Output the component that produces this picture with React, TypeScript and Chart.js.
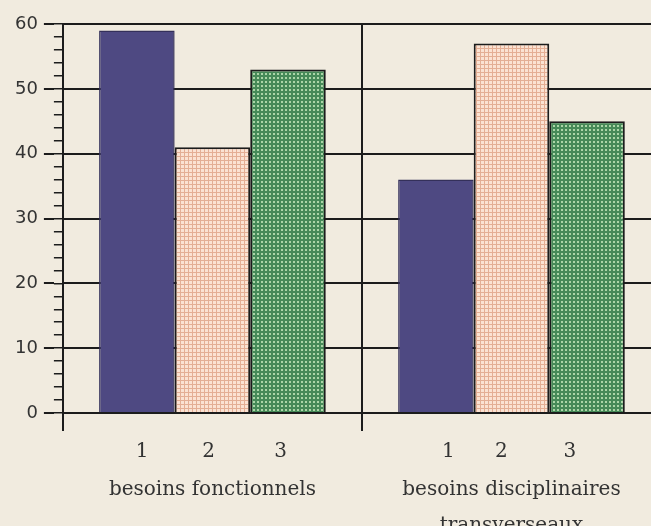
import React, { useEffect, useRef } from 'react';
import { Chart, registerables } from 'chart.js';

Chart.register(...registerables);

// ---- data ----
const groupLabels: string[][] = [['besoins fonctionnels'], ['besoins disciplinaires', 'transverseaux']];
const seriesNames = ['1', '2', '3'];
const series1 = [59, 36];
const series2 = [41, 57];
const series3 = [53, 45];
const subLabels = ['1', '2', '3', '1', '2', '3'];

// ---- layout (label placement along the group axis, in group units) ----
const subLabelValues = [-0.235, -0.013, 0.228, 0.789, 0.966, 1.195];
const groupBoundaries = [-0.5, 0.5, 1.5];

function makePattern(base: string, cell: string, size: number, cellSize: number, off: number) {
  const c = document.createElement('canvas');
  c.width = size;
  c.height = size;
  const g = c.getContext('2d')!;
  g.fillStyle = base;
  g.fillRect(0, 0, size, size);
  g.fillStyle = cell;
  g.fillRect(off, off, cellSize, cellSize);
  const ctx = document.createElement('canvas').getContext('2d')!;
  return ctx.createPattern(c, 'repeat')!;
}

export default function App() {
  const ref = useRef<HTMLCanvasElement | null>(null);

  useEffect(() => {
    if (!ref.current) return;
    const peach = makePattern('#e4ae94', '#fbe2d2', 4, 3, 1);
    const green = makePattern('#468a58', '#acd6a8', 4, 2, 1);
    const ink = '#1c1c1c';
    const tickValues = [...groupBoundaries, ...subLabelValues].sort((a, b) => a - b);
    const isBoundary = (v: number) => groupBoundaries.some((b) => Math.abs(b - v) < 1e-6);

    const chart = new Chart(ref.current, {
      type: 'bar',
      data: {
        labels: groupLabels,
        datasets: [
          { label: seriesNames[0], data: series1, backgroundColor: '#4e4982', borderColor: '#34305a', borderWidth: 1.5, xAxisID: 'x', yAxisID: 'y' },
          { label: seriesNames[1], data: series2, backgroundColor: peach, borderColor: ink, borderWidth: 2, xAxisID: 'x', yAxisID: 'y' },
          { label: seriesNames[2], data: series3, backgroundColor: green, borderColor: ink, borderWidth: 2, xAxisID: 'x', yAxisID: 'y' },
        ],
      },
      options: {
        responsive: false,
        animation: false,
        devicePixelRatio: 1,
        layout: { padding: { left: 9, right: 4, top: 24, bottom: 25 } },
        plugins: { legend: { display: false }, tooltip: { enabled: false } },
        datasets: { bar: { categoryPercentage: 0.758, barPercentage: 1 } },
        scales: {
          x: {
            type: 'category',
            position: 'bottom',
            weight: 1,
            grid: { display: false },
            border: { display: false },
            ticks: {
              color: '#333',
              padding: -9,
              maxRotation: 0,
              autoSkip: false,
              font: { family: 'DejaVu Serif', size: 20, lineHeight: 1.8 },
            },
          },
          x2: {
            type: 'linear',
            position: 'bottom',
            weight: 0,
            min: -0.5,
            max: 1.5,
            offset: false,
            afterBuildTicks: (axis: any) => {
              axis.ticks = tickValues.map((v) => ({ value: v }));
            },
            grid: {
              offset: false,
              color: (c: any) => (c.tick && isBoundary(c.tick.value) ? ink : 'rgba(0,0,0,0)'),
              lineWidth: 2,
              tickLength: 18,
            },
            border: { display: true, color: ink, width: 2 },
            ticks: {
              autoSkip: false,
              maxRotation: 0,
              padding: 9,
              color: '#333',
              font: { family: 'DejaVu Serif', size: 20 },
              callback: (v: any) => {
                const i = subLabelValues.findIndex((s) => Math.abs(s - Number(v)) < 1e-6);
                return i >= 0 ? subLabels[i] : '';
              },
            },
          },
          y: {
            type: 'linear',
            position: 'left',
            weight: 1,
            min: 0,
            max: 60,
            grid: { color: ink, lineWidth: 2, tickLength: 10 },
            border: { display: false },
            ticks: {
              stepSize: 10,
              padding: 6,
              color: '#333',
              font: { family: 'DejaVu Sans', size: 18 },
            },
          },
          y2: {
            type: 'linear',
            position: 'left',
            weight: 0,
            min: 0,
            max: 60,
            grid: { color: ink, lineWidth: 1.5, tickLength: 9, drawOnChartArea: false },
            border: { display: true, color: ink, width: 2 },
            ticks: { stepSize: 2, display: false },
          },
        },
      } as any,
    });
    return () => chart.destroy();
  }, []);

  return (
    <div style={{ position: 'fixed', left: 0, top: 0, width: 651, height: 526, overflow: 'hidden', background: '#f1ebdf' }}>
      <canvas ref={ref} width={670} height={560} style={{ display: 'block' }} />
    </div>
  );
}
